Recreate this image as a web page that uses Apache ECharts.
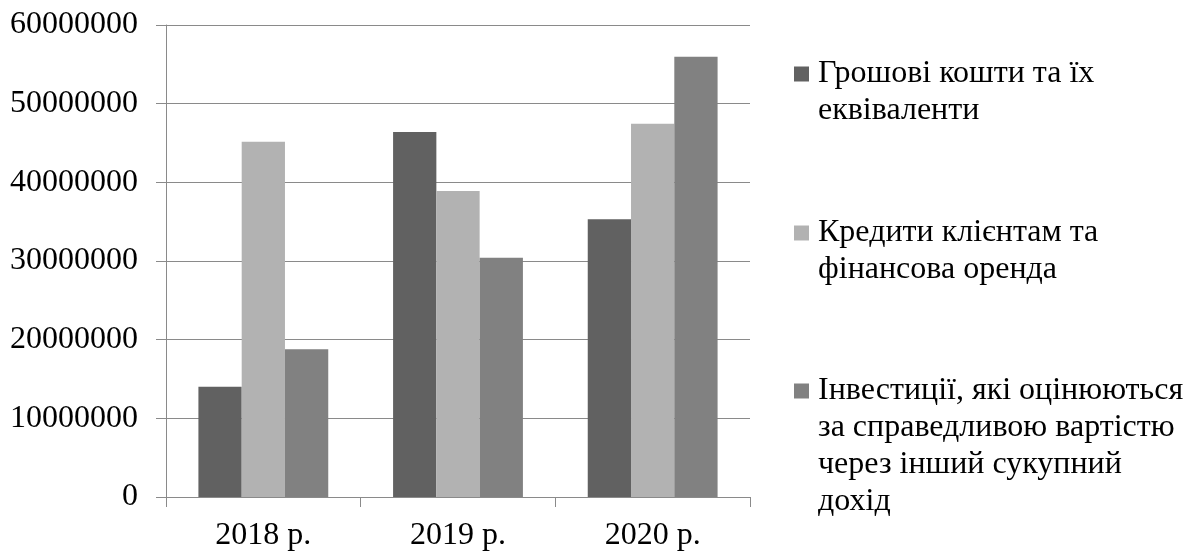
<!DOCTYPE html>
<html>
<head>
<meta charset="utf-8">
<script src="https://cdn.jsdelivr.net/npm/echarts@6/dist/echarts.min.js"></script>
<style>
  html, body { margin: 0; padding: 0; background: #fff; }
  #chart { width: 1192px; height: 553px; }
</style>
</head>
<body>
<div id="chart"></div>
<script>
// Years on the category axis
const years = ['2018 р.', '2019 р.', '2020 р.'];

// Series names and their wrapped legend captions
const seriesNames = [
  'Грошові кошти та їх еквіваленти',
  'Кредити клієнтам та фінансова оренда',
  'Інвестиції, які оцінюються за справедливою вартістю через інший сукупний дохід'
];
const legendLines = [
  ['Грошові кошти та їх', 'еквіваленти'],
  ['Кредити клієнтам та', 'фінансова оренда'],
  ['Інвестиції, які оцінюються', 'за справедливою вартістю', 'через інший сукупний', 'дохід']
];

// Values per year
const cash = [14000000, 46400000, 35300000];
const loans = [45150000, 38900000, 47450000];
const investments = [18770000, 30420000, 55950000];

// Value axis ticks
const yMin = 0;
const yMax = 60000000;
const yStep = 10000000;

const seriesColors = ['#616161', '#b2b2b2', '#818181'];
const values = [cash, loans, investments];

const FONT = "'Liberation Serif', 'Times New Roman', serif";
const FS = 32;
const LH = 37;
const axisGray = '#8a8a8a';

// One legend block per series; leading blank lines keep the swatch on the first text line
const legendIconCenters = [74, 233, 391];
const legends = seriesNames.map((name, i) => {
  const lines = legendLines[i];
  const pad = lines.length - 1;
  return {
    show: true,
    data: [name],
    left: 794,
    top: legendIconCenters[i] - (2 * pad + 1) * LH / 2,
    padding: 0,
    orient: 'vertical',
    icon: 'rect',
    itemWidth: 15,
    itemHeight: 15,
    selectedMode: false,
    formatter: () => '\n'.repeat(pad) + lines.join('\n'),
    textStyle: { fontFamily: FONT, fontSize: FS, lineHeight: LH, color: '#000', padding: [0, 0, 0, 4] }
  };
});

const chart = echarts.init(document.getElementById('chart'), null, { renderer: 'canvas' });
chart.setOption({
  animation: false,
  backgroundColor: '#fff',
  textStyle: { fontFamily: FONT },
  legend: legends,
  grid: { left: 166, right: 442, top: 25, bottom: 56, containLabel: false },
  xAxis: {
    type: 'category',
    data: years,
    boundaryGap: true,
    axisLine: { show: true, lineStyle: { color: axisGray, width: 1 } },
    axisTick: { show: true, alignWithLabel: false, length: 10, lineStyle: { color: axisGray } },
    axisLabel: { fontFamily: FONT, fontSize: FS, color: '#000', margin: 23 },
    splitLine: { show: false }
  },
  yAxis: {
    type: 'value',
    min: yMin,
    max: yMax,
    interval: yStep,
    axisLine: { show: true, lineStyle: { color: axisGray, width: 1 } },
    axisTick: { show: true, length: 10, lineStyle: { color: axisGray } },
    axisLabel: {
      fontFamily: FONT, fontSize: FS, color: '#000', margin: 28,
      formatter: (v) => String(v)
    },
    splitLine: { show: true, lineStyle: { color: axisGray, width: 1 } }
  },
  series: seriesNames.map((name, i) => ({
    name: name,
    type: 'bar',
    data: values[i],
    barGap: '0%',
    barCategoryGap: '33.3%',
    itemStyle: { color: seriesColors[i] }
  }))
});
</script>
</body>
</html>
